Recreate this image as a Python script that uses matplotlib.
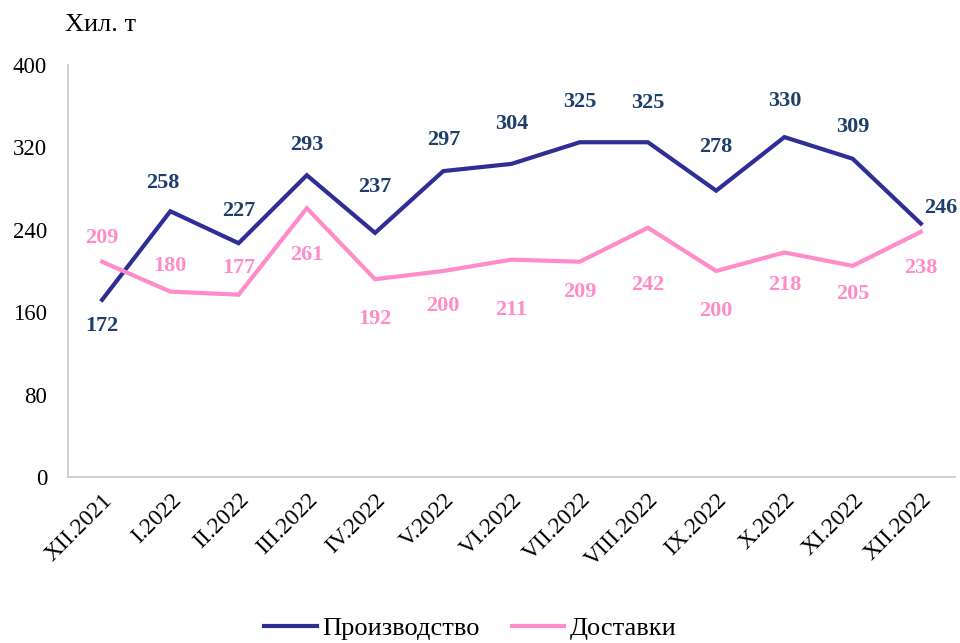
import matplotlib.pyplot as plt

months = ["XII.2021", "I.2022", "II.2022", "III.2022", "IV.2022", "V.2022", "VI.2022",
          "VII.2022", "VIII.2022", "IX.2022", "X.2022", "XI.2022", "XII.2022"]
production = [172, 258, 227, 293, 237, 297, 304, 325, 325, 278, 330, 309, 246]
deliveries = [209, 180, 177, 261, 192, 200, 211, 209, 242, 200, 218, 205, 238]

# label offsets from the point, in pixels (dx, dy), dy > 0 means above
prod_off = [(0, -26), (-8, 28), (0, 32), (0, 30), (0, 46), (0, 31), (0, 40),
            (0, 40), (0, 39), (0, 44), (0, 36), (0, 32), (20, 16)]
deliv_off = [(0, 24), (0, 26), (0, 27), (0, -47), (0, -40), (0, -35), (0, -50),
             (0, -30), (0, -57), (0, -40), (0, -33), (0, -28), (0, -36)]

BLUE = "#2E2E96"
BLUE_TXT = "#1F3F6B"
PINK = "#FF8CC8"

plt.rcParams["font.family"] = ["Liberation Serif", "DejaVu Serif"]

fig = plt.figure(figsize=(9.6, 6.43), dpi=100)
ax = fig.add_axes([68 / 960, 1 - 477 / 643, (955 - 68) / 960, 412 / 643])

x = list(range(len(months)))
ax.plot(x, production, color=BLUE, linewidth=3.0, label="Производство", solid_joinstyle="miter")
ax.plot(x, deliveries, color=PINK, linewidth=3.0, label="Доставки", solid_joinstyle="miter")

px = 0.72  # points per pixel at dpi=100
for i, (p, d) in enumerate(zip(production, deliveries)):
    ax.annotate(str(p), (i, p), xytext=(prod_off[i][0] * px, prod_off[i][1] * px),
                textcoords="offset points", ha="center", va="center",
                fontsize=16, fontweight="bold", color=BLUE_TXT)
    ax.annotate(str(d), (i, d), xytext=(deliv_off[i][0] * px, deliv_off[i][1] * px),
                textcoords="offset points", ha="center", va="center",
                fontsize=16, fontweight="bold", color=PINK)

ax.set_xlim(-0.5, len(months) - 0.5)
ax.set_ylim(0, 400)
ax.set_yticks(range(0, 401, 80))
ax.set_xticks(x)
ax.set_xticklabels(months, rotation=45, ha="right", rotation_mode="anchor", fontsize=17)
ax.tick_params(axis="y", labelsize=16.5, length=0, pad=15)
ax.tick_params(axis="x", length=0, pad=9)
for s in ["top", "right"]:
    ax.spines[s].set_visible(False)
for s in ["left", "bottom"]:
    ax.spines[s].set_color("#C8C8C8")
    ax.spines[s].set_linewidth(1.2)

fig.text(65 / 960, 1 - 25 / 643, "Хил. т", fontsize=19, va="center", ha="left")

fig.legend(loc="center", bbox_to_anchor=(0.49, 1 - 628 / 643), ncol=2, frameon=False,
           fontsize=19, handlelength=2.0, columnspacing=1.2, handletextpad=0.2)

fig.savefig("out.png", dpi=100)
